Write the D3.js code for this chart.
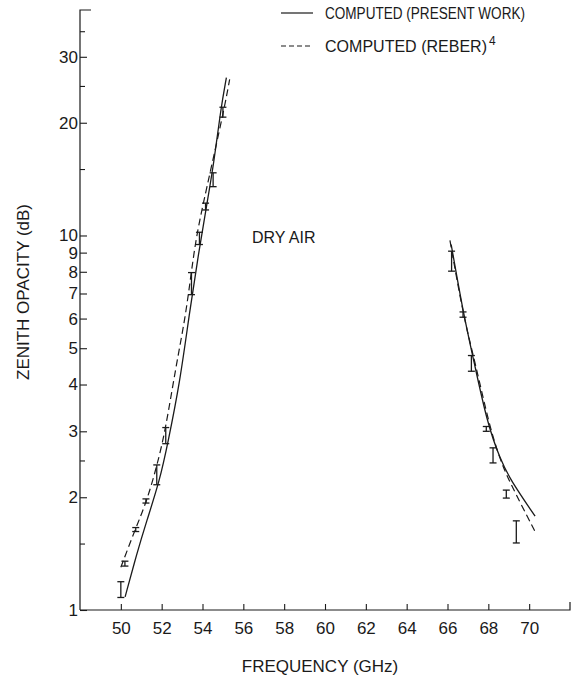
<!DOCTYPE html>
<html>
<head>
<meta charset="utf-8">
<script src="https://cdn.jsdelivr.net/npm/d3@7"></script>
<style>
  html, body { margin: 0; padding: 0; background: #fff; }
  svg text { font-family: "Liberation Sans", Arial, sans-serif; fill: #1a1a1a; }
</style>
</head>
<body>
<svg id="chart" width="587" height="677"></svg>
<script>
// ---- data ----
const freqTicks = [50, 52, 54, 56, 58, 60, 62, 64, 66, 68, 70];
const opacityTicks = [1, 2, 3, 4, 5, 6, 7, 8, 9, 10, 20, 30];
const opacityMinorTicks = [1.5, 2.5, 15, 25, 35];

// computed, present work (solid): [freq GHz, opacity dB]
const presentLow = [[50.21,1.084],[50.78,1.413],[51.25,1.718],[51.9,2.213],[52.3,2.786],[52.9,4.074],[53.35,6.166],[53.8,8.913],[54.2,12.02],[54.55,15.5],[54.89,21.7],[55.17,26.4]];
const presentHigh = [[66.18,9.46],[66.8,6.09],[67.28,4.66],[67.94,3.16],[68.59,2.52],[69.07,2.23],[70.29,1.78]];
// computed, Reber (dashed)
const reberLow = [[50.0,1.30],[50.7,1.64],[51.27,1.95],[51.76,2.42],[52.16,2.97],[52.73,4.57],[53.14,5.96],[53.43,7.8],[53.7,10.0],[54.15,13.0],[55.06,21.7],[55.33,26.1]];
const reberHigh = [[66.12,9.7],[66.8,6.0],[67.35,4.6],[68.05,3.1],[68.6,2.5],[69.07,2.18],[70.29,1.62]];

// measured: [freq, low, high]
const measured = [
  [50.0,1.08,1.19],[50.2,1.31,1.35],[50.73,1.62,1.66],[51.23,1.93,1.98],
  [51.76,2.16,2.44],[52.2,2.78,3.07],[53.46,6.95,7.96],[53.85,9.46,10.2],
  [54.15,11.7,12.2],[54.52,13.5,14.7],[55.0,20.7,22.0],
  [66.2,8.03,9.08],[66.76,6.05,6.25],[67.17,4.34,4.78],[67.9,3.0,3.09],
  [68.23,2.47,2.71],[68.88,1.99,2.09],[69.37,1.51,1.73]
];

// ---- layout ----
const svg = d3.select("#chart");
const mLeft = 80, mRight = 570, mTop = 10, mBottom = 610;
const x = d3.scaleLinear().domain([48, 72]).range([mLeft, mRight]);
const y = d3.scaleLog().domain([1, 40]).range([mBottom, mTop]);
const ink = "#1a1a1a";

// x axis
const xAxis = d3.axisBottom(x).tickValues(freqTicks).tickSize(-6).tickPadding(12).tickFormat(d3.format("d"));
const gx = svg.append("g").attr("transform", `translate(0,${mBottom})`).call(xAxis);
gx.select(".domain").attr("d", `M${mLeft},0H${mRight}V-8`).attr("stroke", ink).attr("stroke-width", 1.2);
gx.selectAll(".tick line").attr("stroke", ink).attr("stroke-width", 1.1);
gx.selectAll(".tick text").attr("font-size", 17).attr("font-family", "Liberation Sans, Arial, sans-serif").attr("fill", ink);

// y axis
const yAxis = d3.axisLeft(y).tickValues(opacityTicks).tickSize(-7).tickPadding(2).tickFormat(d3.format("d"));
const gy = svg.append("g").attr("transform", `translate(${mLeft},0)`).call(yAxis);
gy.select(".domain").attr("d", `M0,${mBottom}V${mTop}H11`).attr("stroke", ink).attr("stroke-width", 1.2);
gy.selectAll(".tick line").attr("stroke", ink).attr("stroke-width", 1.1);
gy.selectAll(".tick text").attr("font-size", 17).attr("font-family", "Liberation Sans, Arial, sans-serif").attr("fill", ink);
// minor ticks
gy.selectAll(".minor").data(opacityMinorTicks).enter().append("line")
  .attr("x1", 0).attr("x2", 5).attr("y1", d => y(d)).attr("y2", d => y(d))
  .attr("stroke", ink).attr("stroke-width", 1.1);

// axis titles
svg.append("text").attr("x", 320).attr("y", 672).attr("text-anchor", "middle")
  .attr("font-size", 17).text("FREQUENCY (GHz)");
svg.append("text").attr("transform", "translate(29,292) rotate(-90)").attr("text-anchor", "middle")
  .attr("font-size", 17).text("ZENITH OPACITY (dB)");

// curves
const line = d3.line().x(d => x(d[0])).y(d => y(d[1])).curve(d3.curveBasis);
[presentLow, presentHigh].forEach(s => svg.append("path").attr("d", line(s))
  .attr("fill", "none").attr("stroke", ink).attr("stroke-width", 1.3));
[reberLow, reberHigh].forEach(s => svg.append("path").attr("d", line(s))
  .attr("fill", "none").attr("stroke", ink).attr("stroke-width", 1.2).attr("stroke-dasharray", "7,4"));

// measured error bars
const gm = svg.append("g").attr("stroke", ink).attr("stroke-width", 1.3);
measured.forEach(m => {
  const cx = x(m[0]), y1 = y(m[1]), y2 = y(m[2]);
  gm.append("line").attr("x1", cx).attr("x2", cx).attr("y1", y1).attr("y2", y2);
  gm.append("line").attr("x1", cx - 3.5).attr("x2", cx + 3.5).attr("y1", y1).attr("y2", y1);
  gm.append("line").attr("x1", cx - 3.5).attr("x2", cx + 3.5).attr("y1", y2).attr("y2", y2);
});

// label
svg.append("text").attr("x", 252).attr("y", 243).attr("font-size", 16).text("DRY AIR");

// legend
svg.append("line").attr("x1", 281).attr("x2", 313).attr("y1", 13).attr("y2", 13)
  .attr("stroke", ink).attr("stroke-width", 1.2);
svg.append("text").attr("x", 325).attr("y", 19).attr("font-size", 16)
  .attr("textLength", 200).attr("lengthAdjust", "spacingAndGlyphs").text("COMPUTED (PRESENT WORK)");
svg.append("line").attr("x1", 281).attr("x2", 313).attr("y1", 46).attr("y2", 46)
  .attr("stroke", ink).attr("stroke-width", 1.2).attr("stroke-dasharray", "5,3");
const t2 = svg.append("text").attr("x", 325).attr("y", 52).attr("font-size", 16);
t2.append("tspan").attr("textLength", 162).attr("lengthAdjust", "spacingAndGlyphs").text("COMPUTED (REBER)");
t2.append("tspan").attr("dy", -7).attr("dx", 2).attr("font-size", 12).text("4");
</script>
</body>
</html>
